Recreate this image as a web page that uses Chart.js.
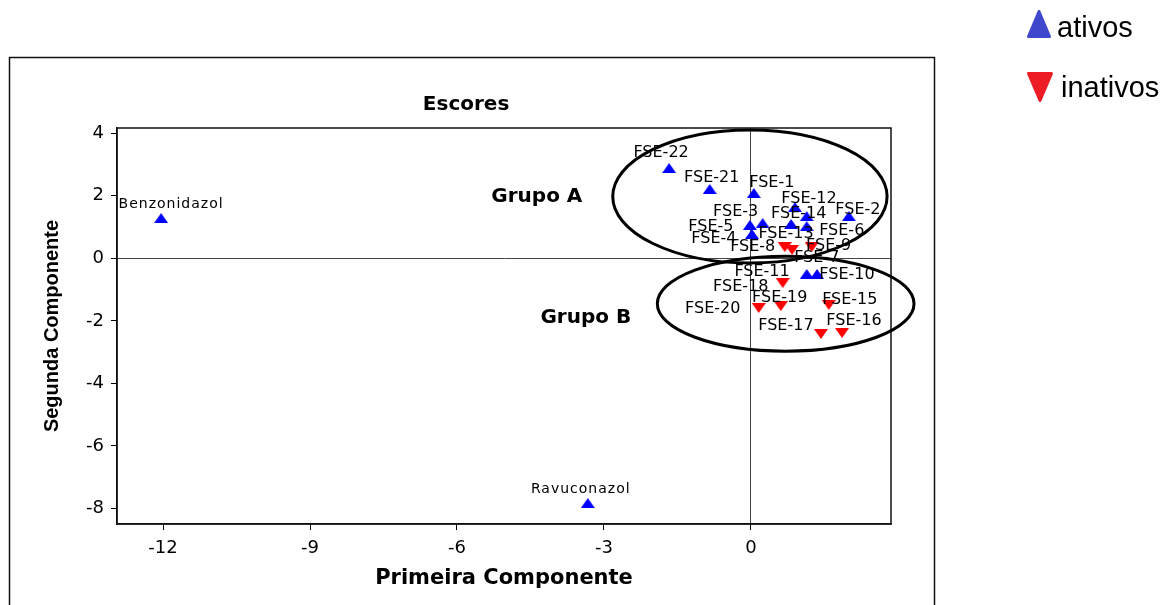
<!DOCTYPE html>
<html>
<head>
<meta charset="utf-8">
<title>Escores</title>
<script src="https://cdn.jsdelivr.net/npm/chart.js@4.4.0/dist/chart.umd.min.js"></script>
<style>
  html, body { margin: 0; padding: 0; background: #ffffff; }
  #wrap { width: 1167px; height: 605px; }
</style>
</head>
<body>
<div id="wrap"><canvas id="chart" width="1167" height="605"></canvas></div>
<script>
// ---- data: PCA scores (first and second components) ----
const activeNames = ['Benzonidazol', 'Ravuconazol', 'FSE-22', 'FSE-21', 'FSE-1', 'FSE-12', 'FSE-14', 'FSE-2',
                     'FSE-3', 'FSE-5', 'FSE-4', 'FSE-13', 'FSE-6', 'FSE-7', 'FSE-10'];
const activeX = [-12.04, -3.33, -1.67, -0.84, 0.06, 0.90, 1.14, 2.00, 0.24, -0.02, 0.02, 0.82, 1.14, 1.14, 1.35];
const activeY = [1.29, -7.83, 2.89, 2.22, 2.09, 1.64, 1.35, 1.35, 1.13, 1.07, 0.78, 1.10, 1.03, -0.50, -0.50];

const inactiveNames = ['FSE-8', 'FSE-9', 'FSE-11', 'FSE-18', 'FSE-19', 'FSE-20', 'FSE-15', 'FSE-17', 'FSE-16'];
const inactiveX = [0.69, 1.24, 0.84, 0.65, 0.61, 0.16, 1.59, 1.43, 1.86];
const inactiveY = [0.36, 0.36, 0.27, -0.79, -1.53, -1.59, -1.49, -2.42, -2.39];

const seriesNames = ['ativos', 'inativos'];
const xTicks = [-12, -9, -6, -3, 0];
const yTicks = [4, 2, 0, -2, -4, -6, -8];

// group ellipses (centre and half-axes in score units) and their captions
const groupNames = ['Grupo A', 'Grupo B'];
const groupEllipses = [
  { cx: -0.02, cy: 1.98, rx: 2.80, ry: 2.13 },
  { cx: 0.71, cy: -1.45, rx: 2.62, ry: 1.52 }
];
const groupCaptionAt = [
  { x: -4.37, y: 1.96 },
  { x: -3.37, y: -1.91 }
];

// where each point label sits relative to its marker (pixels)
const labelOffsets = {
  'Benzonidazol': [10, -14], 'Ravuconazol': [-7, -14],
  'FSE-22': [-8, -15], 'FSE-21': [2, -11], 'FSE-1': [18, -10], 'FSE-12': [14, -8],
  'FSE-14': [-8, -2], 'FSE-2': [9, -6], 'FSE-3': [-27, -11], 'FSE-5': [-39, 2],
  'FSE-4': [-38, 5], 'FSE-13': [-5, 10], 'FSE-6': [35, 5], 'FSE-7': [10, -16],
  'FSE-10': [30, 1], 'FSE-8': [-32, 0], 'FSE-9': [17, -1], 'FSE-11': [-30, 22],
  'FSE-18': [-42, 4], 'FSE-19': [-1, -8], 'FSE-20': [-46, 1], 'FSE-15': [21, -5],
  'FSE-17': [-35, -8], 'FSE-16': [12, -12]
};

// ---- marker images ----
function triangleMarker(color, up, w, h) {
  const c = document.createElement('canvas');
  c.width = w; c.height = h;
  const g = c.getContext('2d');
  g.fillStyle = color;
  g.beginPath();
  if (up) { g.moveTo(w / 2, 0); g.lineTo(w, h); g.lineTo(0, h); }
  else { g.moveTo(0, 0); g.lineTo(w, 0); g.lineTo(w / 2, h); }
  g.closePath();
  g.fill();
  return c;
}
const upMarker = triangleMarker('#0000ff', true, 14, 10);
const downMarker = triangleMarker('#ff0000', false, 14, 10);

function toPoints(xs, ys, names) {
  return xs.map((x, i) => ({ x: x, y: ys[i], name: names[i] }));
}

// ---- plugins ----
const frame = {
  id: 'frame',
  beforeDraw(chart) {
    const ctx = chart.ctx;
    ctx.save();
    ctx.strokeStyle = '#111';
    ctx.lineWidth = 1.5;
    ctx.strokeRect(9.5, 57.5, 925, 620);
    ctx.restore();
  },
  beforeDatasetsDraw(chart) {
    const a = chart.chartArea, ctx = chart.ctx;
    ctx.save();
    ctx.strokeStyle = '#111';
    ctx.lineWidth = 1.5;
    ctx.strokeRect(a.left, a.top, a.right - a.left, a.bottom - a.top);
    ctx.restore();
  }
};

const annotations = {
  id: 'annotations',
  afterDatasetsDraw(chart) {
    const ctx = chart.ctx, xs = chart.scales.x, ys = chart.scales.y, a = chart.chartArea;
    ctx.save();

    // point labels
    chart.data.datasets.forEach((ds, di) => {
      const meta = chart.getDatasetMeta(di);
      meta.data.forEach((el, i) => {
        const name = ds.data[i].name;
        const off = labelOffsets[name] || [0, -14];
        const big = name.indexOf('FSE') !== 0;
        ctx.font = big ? '14px "DejaVu Sans"' : '16px "DejaVu Sans"';
        ctx.letterSpacing = big ? '1px' : '0px';
        ctx.fillStyle = '#000';
        ctx.textAlign = 'center';
        ctx.textBaseline = 'middle';
        ctx.fillText(name, el.x + off[0], el.y + off[1]);
      });
    });
    ctx.letterSpacing = '0px';

    // group ellipses
    ctx.strokeStyle = '#000';
    ctx.lineWidth = 3;
    groupEllipses.forEach(e => {
      const cx = xs.getPixelForValue(e.cx), cy = ys.getPixelForValue(e.cy);
      const rx = Math.abs(xs.getPixelForValue(e.cx + e.rx) - cx);
      const ry = Math.abs(ys.getPixelForValue(e.cy + e.ry) - cy);
      ctx.beginPath();
      ctx.ellipse(cx, cy, rx, ry, 0, 0, Math.PI * 2);
      ctx.stroke();
    });

    // group captions
    ctx.font = 'bold 20px "DejaVu Sans"';
    ctx.fillStyle = '#000';
    ctx.textAlign = 'center';
    ctx.textBaseline = 'middle';
    groupNames.forEach((g, i) => {
      ctx.fillText(g, xs.getPixelForValue(groupCaptionAt[i].x), ys.getPixelForValue(groupCaptionAt[i].y));
    });

    // chart heading
    ctx.font = 'bold 20px "DejaVu Sans"';
    ctx.fillText('Escores', a.left + (a.right - a.left) * 0.451, 105);

    ctx.restore();
  },
  afterDraw(chart) {
    // legend, top right
    const ctx = chart.ctx;
    ctx.save();
    ctx.lineJoin = 'round';
    ctx.lineWidth = 3;
    // ativos
    ctx.fillStyle = '#3f48cc';
    ctx.strokeStyle = '#3f48cc';
    ctx.beginPath();
    ctx.moveTo(1039, 11.5); ctx.lineTo(1049.5, 36.5); ctx.lineTo(1028.5, 36.5); ctx.closePath();
    ctx.fill(); ctx.stroke();
    // inativos
    ctx.fillStyle = '#ed1c24';
    ctx.strokeStyle = '#ed1c24';
    ctx.beginPath();
    ctx.moveTo(1028.5, 73.5); ctx.lineTo(1051.5, 73.5); ctx.lineTo(1040, 100.5); ctx.closePath();
    ctx.fill(); ctx.stroke();

    ctx.fillStyle = '#000';
    ctx.font = '29px "Liberation Sans"';
    ctx.textAlign = 'left';
    ctx.textBaseline = 'alphabetic';
    ctx.fillText(chart.data.datasets[0].label, 1057, 37);
    ctx.fillText(chart.data.datasets[1].label, 1061, 97);
    ctx.restore();
  }
};

// ---- chart ----
const zeroLine = c => (c.tick && c.tick.value === 0) ? '#444' : 'rgba(0,0,0,0)';

new Chart(document.getElementById('chart'), {
  type: 'scatter',
  data: {
    datasets: [
      {
        label: seriesNames[0],
        data: toPoints(activeX, activeY, activeNames),
        pointStyle: upMarker,
        backgroundColor: '#0000ff',
        borderColor: '#0000ff'
      },
      {
        label: seriesNames[1],
        data: toPoints(inactiveX, inactiveY, inactiveNames),
        pointStyle: downMarker,
        backgroundColor: '#ff0000',
        borderColor: '#ff0000'
      }
    ]
  },
  options: {
    responsive: false,
    animation: false,
    events: [],
    layout: { padding: { top: 128, right: 276, left: 0, bottom: 0 } },
    plugins: {
      legend: { display: false },
      title: { display: false },
      tooltip: { enabled: false }
    },
    scales: {
      x: {
        type: 'linear',
        min: -12.94,
        max: 2.86,
        afterBuildTicks: s => { s.ticks = xTicks.map(v => ({ value: v })); },
        afterFit: s => { s.height = 81; },
        grid: { color: zeroLine, tickColor: '#000', tickLength: 6, lineWidth: 1 },
        border: { display: true, color: '#111', width: 1.5 },
        ticks: { font: { family: 'DejaVu Sans', size: 18 }, color: '#000', padding: 8, maxRotation: 0, autoSkip: false },
        title: {
          display: true, text: 'Primeira Componente', color: '#000',
          font: { family: 'DejaVu Sans', weight: 'bold', size: 21 },
          padding: { top: 0, bottom: 14 }
        }
      },
      y: {
        type: 'linear',
        min: -8.5,
        max: 4.17,
        afterBuildTicks: s => { s.ticks = yTicks.map(v => ({ value: v })); },
        afterFit: s => { s.width = 117; },
        grid: { color: zeroLine, tickColor: '#000', tickLength: 6, lineWidth: 1 },
        border: { display: true, color: '#111', width: 1.5 },
        ticks: { font: { family: 'DejaVu Sans', size: 18 }, color: '#000', padding: 7 },
        title: {
          display: true, text: 'Segunda Componente', color: '#000',
          font: { family: 'Liberation Sans', weight: 'bold', size: 20 },
          padding: { top: 40, bottom: 0 }
        }
      }
    }
  },
  plugins: [frame, annotations]
});
</script>
</body>
</html>
